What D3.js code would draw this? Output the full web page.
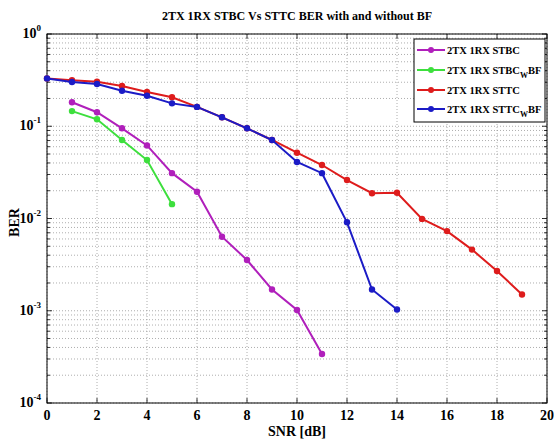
<!DOCTYPE html>
<html><head><meta charset="utf-8">
<script src="https://cdn.jsdelivr.net/npm/d3@7"></script>
<style>body{margin:0;background:#fff;} svg{display:block;font-family:"Liberation Serif","Times New Roman",serif;font-weight:bold;}</style>
</head><body>
<script>
const snrA = [1,2,3,4,5,6,7,8,9,10,11];
const stbc = [0.182,0.142,0.095,0.062,0.031,0.0195,0.00635,0.00355,0.0017,0.00102,0.00034];
const snrB = [1,2,3,4,5];
const stbcBF = [0.146,0.119,0.071,0.043,0.0143];
const snrC = [0,1,2,3,4,5,6,7,8,9,10,11,12,13,14,15,16,17,18,19];
const sttc = [0.33,0.315,0.304,0.273,0.235,0.206,0.162,0.125,0.095,0.071,0.0517,0.038,0.0261,0.0188,0.019,0.0099,0.0073,0.0046,0.0027,0.0015];
const snrD = [0,1,2,3,4,5,6,7,8,9,10,11,12,13,14];
const sttcBF = [0.33,0.302,0.287,0.243,0.214,0.177,0.162,0.125,0.095,0.071,0.041,0.031,0.0091,0.0017,0.00103];
const xTicks = [0,2,4,6,8,10,12,14,16,18,20];
const yExps = [0,-1,-2,-3,-4];
const seriesNames = ["2TX 1RX STBC","2TX 1RX STBC","2TX 1RX STTC","2TX 1RX STTC"];
const seriesSubs = ["","W","","W"];
const seriesColors = ["#b01fbb","#3ddf3d","#de1c1c","#1b1bc6"];

const W=554,H=441, L=47,R=547,T=34,B=403;
const svg=d3.select("body").append("svg").attr("width",W).attr("height",H);
const x=d3.scaleLinear().domain([0,20]).range([L,R]);
const y=d3.scaleLog().domain([1e-4,1]).range([B,T]);

// grid
const g=svg.append("g");
const minor=[];
for(let e=-4;e<0;e++) for(let k=1;k<10;k++) minor.push(k*Math.pow(10,e));
minor.push(1);
g.selectAll(".hy").data(minor).enter().append("line")
 .attr("x1",L).attr("x2",R).attr("y1",d=>y(d)).attr("y2",d=>y(d))
 .attr("stroke","#999").attr("stroke-width",0.8).attr("stroke-dasharray","1,2");
g.selectAll(".vx").data(xTicks).enter().append("line")
 .attr("x1",d=>x(d)).attr("x2",d=>x(d)).attr("y1",T).attr("y2",B)
 .attr("stroke","#999").attr("stroke-width",0.8).attr("stroke-dasharray","1,2");
// tick marks
const tk=svg.append("g").attr("stroke","#000").attr("stroke-width",0.8);
minor.forEach(d=>{
  const len = (Math.abs(Math.log10(d)-Math.round(Math.log10(d)))<1e-9)?5:3;
  tk.append("line").attr("x1",L).attr("x2",L+len).attr("y1",y(d)).attr("y2",y(d));
  tk.append("line").attr("x1",R).attr("x2",R-len).attr("y1",y(d)).attr("y2",y(d));
});
xTicks.forEach(d=>{
  tk.append("line").attr("x1",x(d)).attr("x2",x(d)).attr("y1",B).attr("y2",B-5);
  tk.append("line").attr("x1",x(d)).attr("x2",x(d)).attr("y1",T).attr("y2",T+5);
});
svg.append("rect").attr("x",L).attr("y",T).attr("width",R-L).attr("height",B-T)
 .attr("fill","none").attr("stroke","#000").attr("stroke-width",1);

// axis labels
svg.selectAll(".xl").data(xTicks).enter().append("text")
 .attr("x",d=>x(d)).attr("y",B+17).attr("text-anchor","middle").attr("font-size",14).text(d=>d);
yExps.forEach(e=>{
  const t=svg.append("text").attr("x",L-6).attr("y",y(Math.pow(10,e))+4).attr("text-anchor","end").attr("font-size",14);
  t.append("tspan").text("10");
  t.append("tspan").attr("font-size",9).attr("dy",-7).text(e);
});
svg.append("text").attr("x",(L+R)/2).attr("y",436).attr("text-anchor","middle").attr("font-size",14).text("SNR [dB]");
svg.append("text").attr("transform",`translate(19,${(T+B)/2+4}) rotate(-90)`).attr("text-anchor","middle").attr("font-size",14).text("BER");
svg.append("text").attr("x",297).attr("y",20).attr("text-anchor","middle").attr("font-size",12).text("2TX 1RX STBC Vs STTC BER with and without BF");

// series
const data=[[snrA,stbc],[snrB,stbcBF],[snrC,sttc],[snrD,sttcBF]];
const line=d3.line().x(d=>x(d[0])).y(d=>y(d[1]));
data.forEach((s,i)=>{
  const pts=s[0].map((v,j)=>[v,s[1][j]]);
  const gg=svg.append("g");
  gg.append("path").datum(pts).attr("d",line).attr("fill","none").attr("stroke",seriesColors[i]).attr("stroke-width",2);
  gg.selectAll("circle").data(pts).enter().append("circle").attr("cx",d=>x(d[0])).attr("cy",d=>y(d[1])).attr("r",3.2).attr("fill",seriesColors[i]);
});

// legend
const lg=svg.append("g");
lg.append("rect").attr("x",414).attr("y",39).attr("width",131).attr("height",83).attr("fill","#fff").attr("stroke","#000").attr("stroke-width",1);
const rowsY=[50,70,90,109];
seriesNames.forEach((n,i)=>{
  lg.append("line").attr("x1",417).attr("x2",445).attr("y1",rowsY[i]).attr("y2",rowsY[i]).attr("stroke",seriesColors[i]).attr("stroke-width",2);
  lg.append("circle").attr("cx",431).attr("cy",rowsY[i]).attr("r",3).attr("fill",seriesColors[i]);
  const t=lg.append("text").attr("x",447).attr("y",rowsY[i]+4).attr("font-size",10.5);
  t.append("tspan").text(n);
  if(seriesSubs[i]){
    t.append("tspan").attr("font-size",8).attr("dy",4).text(seriesSubs[i]);
    t.append("tspan").attr("dy",-4).text("BF");
  }
});
</script>
</body></html>
